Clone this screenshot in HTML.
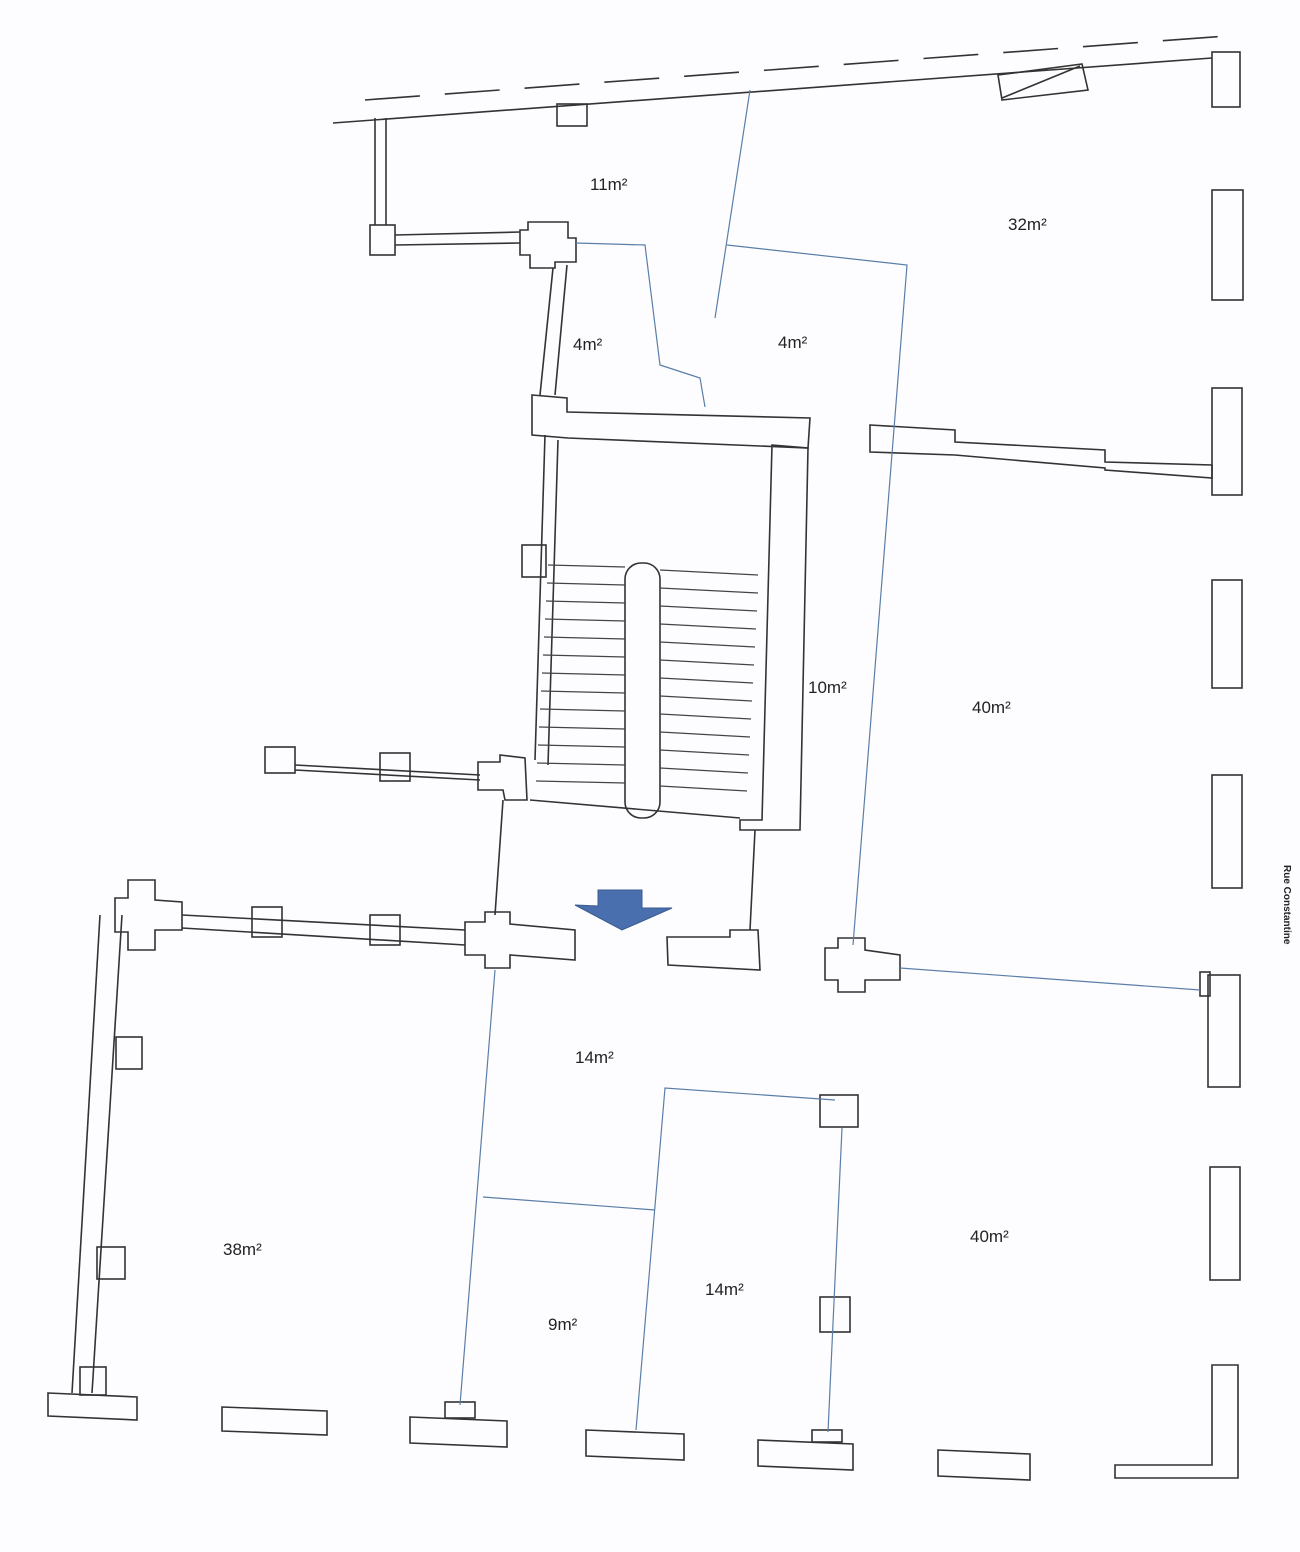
<!DOCTYPE html>
<html><head><meta charset="utf-8"><style>
html,body{margin:0;padding:0;background:#fdfdff;}
svg{display:block}
text{font-family:"Liberation Sans",sans-serif;font-size:17px;fill:#222}
</style></head><body>
<svg width="1300" height="1552" viewBox="0 0 1300 1552" xmlns="http://www.w3.org/2000/svg">
<rect width="1300" height="1552" fill="#fdfdff"/>
<g fill="none" stroke="#333" stroke-width="1.6">
<!-- top street lines -->
<line x1="365" y1="100" x2="1240" y2="35" stroke-dasharray="55,25"/>
<line x1="333" y1="123" x2="1212" y2="58"/>
<rect x="557" y="104" width="30" height="22"/>
<polygon points="998,75 1082,64 1088,90 1002,100"/>
<line x1="1002" y1="98" x2="1080" y2="66"/>
<!-- right column -->
<rect x="1212" y="52" width="28" height="55"/>
<rect x="1212" y="190" width="31" height="110"/>
<rect x="1212" y="388" width="30" height="107"/>
<rect x="1212" y="580" width="30" height="108"/>
<rect x="1212" y="775" width="30" height="113"/>
<rect x="1208" y="975" width="32" height="112"/>
<rect x="1200" y="972" width="10" height="24"/>
<rect x="1210" y="1167" width="30" height="113"/>
<polygon points="1212,1365 1238,1365 1238,1478 1115,1478 1115,1465 1212,1465"/>
<!-- bottom row -->
<polygon points="48,1393 137,1397 137,1420 48,1416"/>
<polygon points="222,1407 327,1411 327,1435 222,1431"/>
<polygon points="410,1417 507,1421 507,1447 410,1443"/>
<rect x="445" y="1402" width="30" height="16"/>
<polygon points="586,1430 684,1434 684,1460 586,1456"/>
<polygon points="758,1440 853,1444 853,1470 758,1466"/>
<rect x="812" y="1430" width="30" height="12"/>
<polygon points="938,1450 1030,1454 1030,1480 938,1476"/>
<!-- left wall -->
<line x1="100" y1="915" x2="72" y2="1393"/>
<line x1="122" y1="915" x2="92" y2="1393"/>
<rect x="116" y="1037" width="26" height="32"/>
<rect x="97" y="1247" width="28" height="32"/>
<rect x="80" y="1367" width="26" height="28"/>
<!-- left upper corridor -->
<polygon points="115,898 128,898 128,880 155,880 155,900 182,902 182,930 155,930 155,950 128,950 128,932 115,932"/>
<line x1="182" y1="915" x2="465" y2="930"/>
<line x1="182" y1="928" x2="465" y2="945"/>
<rect x="252" y="907" width="30" height="30"/>
<rect x="370" y="915" width="30" height="30"/>
<polygon points="465,922 485,922 485,912 510,912 510,924 575,930 575,960 510,955 510,968 485,968 485,955 465,955"/>
<polygon points="667,937 730,937 730,930 758,930 760,970 668,965"/>
<polygon points="825,948 838,948 838,938 865,938 865,950 900,955 900,980 865,980 865,992 838,992 838,980 825,980"/>
<!-- middle-left row -->
<rect x="265" y="747" width="30" height="26"/>
<line x1="295" y1="765" x2="480" y2="775"/>
<line x1="295" y1="770" x2="480" y2="780"/>
<rect x="380" y="753" width="30" height="28"/>
<polygon points="478,762 500,762 500,755 525,758 527,800 505,800 503,790 478,790"/>
<line x1="503" y1="800" x2="495" y2="915"/>
<line x1="755" y1="830" x2="750" y2="930"/>
<!-- upper left -->
<line x1="375" y1="118" x2="375" y2="225"/>
<line x1="386" y1="118" x2="386" y2="225"/>
<rect x="370" y="225" width="25" height="30"/>
<line x1="395" y1="235" x2="520" y2="232"/>
<line x1="395" y1="245" x2="520" y2="243"/>
<polygon points="520,230 528,230 528,222 568,222 568,238 576,238 576,262 555,262 555,268 530,268 530,255 520,255"/>
<line x1="553" y1="268" x2="540" y2="395"/>
<line x1="567" y1="265" x2="555" y2="395"/>
<!-- stair block -->
<polygon points="532,395 567,398 567,412 810,418 808,448 568,438 532,435"/>
<line x1="545" y1="435" x2="535" y2="760"/>
<line x1="558" y1="440" x2="548" y2="765"/>
<rect x="522" y="545" width="24" height="32"/>
<polygon points="772,445 808,448 800,830 740,830 740,820 762,820"/>
<line x1="530" y1="800" x2="740" y2="818"/>
<!-- stairs -->
<rect x="625" y="563" width="35" height="255" rx="16"/>
</g>
<g stroke="#444" stroke-width="1.2">
<line x1="548" y1="565" x2="625" y2="567"/><line x1="660" y1="570" x2="758" y2="575"/>
<line x1="547" y1="583" x2="625" y2="585"/><line x1="660" y1="588" x2="758" y2="593"/>
<line x1="546" y1="601" x2="625" y2="603"/><line x1="660" y1="606" x2="757" y2="611"/>
<line x1="545" y1="619" x2="625" y2="621"/><line x1="660" y1="624" x2="756" y2="629"/>
<line x1="544" y1="637" x2="625" y2="639"/><line x1="660" y1="642" x2="755" y2="647"/>
<line x1="543" y1="655" x2="625" y2="657"/><line x1="660" y1="660" x2="754" y2="665"/>
<line x1="542" y1="673" x2="625" y2="675"/><line x1="660" y1="678" x2="753" y2="683"/>
<line x1="541" y1="691" x2="625" y2="693"/><line x1="660" y1="696" x2="752" y2="701"/>
<line x1="540" y1="709" x2="625" y2="711"/><line x1="660" y1="714" x2="751" y2="719"/>
<line x1="539" y1="727" x2="625" y2="729"/><line x1="660" y1="732" x2="750" y2="737"/>
<line x1="538" y1="745" x2="625" y2="747"/><line x1="660" y1="750" x2="749" y2="755"/>
<line x1="537" y1="763" x2="625" y2="765"/><line x1="660" y1="768" x2="748" y2="773"/>
<line x1="536" y1="781" x2="625" y2="783"/><line x1="660" y1="786" x2="747" y2="791"/>
</g>
<g fill="none" stroke="#333" stroke-width="1.6">
<!-- right wall upper -->
<polygon points="870,425 955,430 955,442 1105,450 1105,462 1212,465 1212,478 1105,470 1105,468 955,455 870,452"/>
<rect x="820" y="1095" width="38" height="32"/>
<rect x="820" y="1297" width="30" height="35"/>
</g>
<!-- blue partitions -->
<g fill="none" stroke="#5a7ea8" stroke-width="1.2">
<line x1="750" y1="90" x2="715" y2="318"/>
<polyline points="576,243 645,245 660,365 700,378 705,407"/>
<polyline points="727,245 907,265 853,945"/>
<line x1="900" y1="968" x2="1200" y2="990"/>
<line x1="495" y1="970" x2="460" y2="1405"/>
<line x1="483" y1="1197" x2="655" y2="1210"/>
<polyline points="636,1430 665,1088 835,1100"/>
<line x1="842" y1="1128" x2="828" y2="1432"/>
</g>
<!-- arrow -->
<polygon points="598,890 642,890 642,908 672,908 622,930 575,905 598,906" fill="#4a6fae" stroke="#3a5a90"/>
<text x="590" y="190">11m²</text>
<text x="1008" y="230">32m²</text>
<text x="573" y="350">4m²</text>
<text x="778" y="348">4m²</text>
<text x="808" y="693">10m²</text>
<text x="972" y="713">40m²</text>
<text x="575" y="1063">14m²</text>
<text x="970" y="1242">40m²</text>
<text x="223" y="1255">38m²</text>
<text x="705" y="1295">14m²</text>
<text x="548" y="1330">9m²</text>
<text x="0" y="0" transform="translate(1284,865) rotate(90)" style="font-size:10px;font-weight:bold">Rue Constantine</text>
</svg>
</body></html>
